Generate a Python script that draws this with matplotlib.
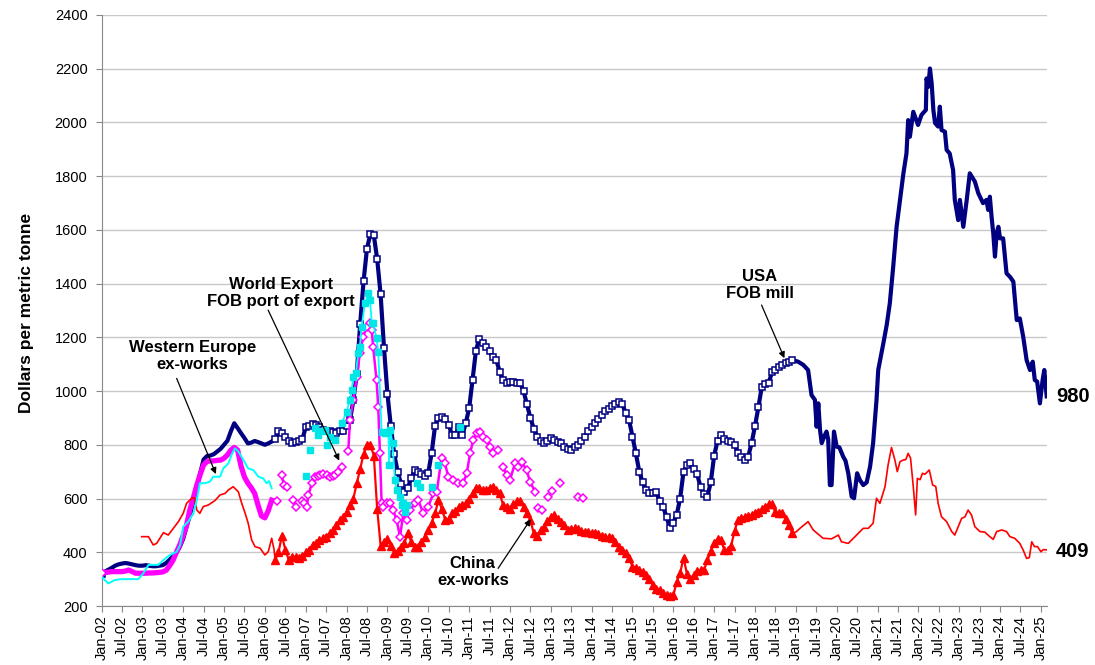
import numpy as np
import matplotlib
matplotlib.use('Agg')
import matplotlib.pyplot as plt

plt.rcParams['font.family'] = ['Liberation Sans', 'DejaVu Sans']

nan = float('nan')

# all dates are months counted from Jan-02 (0 = Jan-02, 12 = Jan-03 ...)

# USA FOB mill, monthly Jan-02 .. Dec-18
usa_monthly = [
    320, 328, 335, 342, 350, 355, 358, 360, 358, 355, 352, 350,            # 2002
    350, 352, 350, 348, 348, 350, 352, 360, 372, 385, 398, 420,            # 2003
    450, 495, 540, 590, 640, 695, 745, 758, 760, 765, 775, 785,            # 2004
    800, 815, 850, 880, 862, 843, 825, 805, 808, 814, 810, 805,            # 2005
    800, 805, 812, 820, 850, 845, 830, 815, 806, 810, 815, 820,            # 2006
    865, 870, 878, 875, 865, 855, 850, 850, 848, 842, 850, 852,            # 2007
    870, 892, 965, 1065, 1250, 1410, 1530, 1585, 1580, 1490, 1360, 1160,   # 2008
    990, 870, 765, 700, 655, 625, 640, 675, 705, 700, 690, 685,            # 2009
    695, 770, 870, 900, 905, 895, 875, 835, 835, 865, 835, 880,            # 2010
    935, 1040, 1150, 1195, 1180, 1165, 1150, 1125, 1115, 1072, 1040, 1029, # 2011
    1035, 1035, 1030, 1029, 1000, 950, 900, 860, 830, 815, 806, 815,       # 2012
    824, 818, 812, 805, 793, 785, 781, 790, 800, 815, 830, 850,            # 2013
    867, 880, 895, 910, 925, 932, 945, 952, 960, 950, 920, 892,            # 2014
    830, 768, 700, 660, 630, 622, 619, 625, 590, 569, 532, 489,            # 2015
    510, 540, 600, 700, 725, 731, 710, 690, 644, 615, 607, 660,            # 2016
    760, 815, 836, 820, 815, 811, 800, 770, 755, 743, 756, 806,            # 2017
    870, 940, 1016, 1025, 1030, 1070, 1080, 1090, 1095, 1103, 1108, 1115,  # 2018
]
usa_marker_from = 51   # open squares from Apr-06 to Dec-18
usa_late_m = [204.7, 206.2, 207.6, 208.6, 209.6, 210.1, 210.6, 211.1, 211.6, 212.3,
              213, 213.5, 214, 214.5, 215.2, 216, 216.8, 217.9, 218.6, 219.4,
              220.4, 221.1, 222, 222.8, 223.8, 224.8, 225.8, 226.7, 227.7, 228.2,
              229.7, 230.7, 231.6, 232.6, 233.6, 234.6, 235.6, 236.5, 237, 237.5,
              238.5, 239.9, 240.9, 242.2, 242.4, 242.9, 243.4, 243.9, 244.4, 244.9,
              245.8, 246.3, 246.8, 247.8, 248.3, 249.2, 250.2, 250.7, 251.7, 252.2,
              253.2, 254.2, 255.1, 256.6, 257.6, 259, 260, 260.5, 261, 261.5,
              262, 262.5, 263, 263.5, 264, 264.9, 265.9, 266.9, 267.9, 268.9,
              269.8, 270.8, 271.8, 272.8, 273.6, 274.2, 274.9, 275.7, 276.5, 277,
              277.7]
usa_late_v = [1109, 1097, 1078, 985, 967, 867, 954, 855, 806, 830,
              849, 820, 650, 650, 849, 793, 790, 756, 740, 694,
              607, 601, 694, 669, 650, 660, 718, 806, 967, 1078,
              1177, 1246, 1326, 1462, 1611, 1711, 1810, 1884, 2008, 1946,
              2039, 1990, 2027, 2046, 2163, 2132, 2200, 2145, 2046, 1997,
              1984, 2058, 1971, 1965, 1897, 1884, 1822, 1711, 1636, 1711,
              1611, 1711, 1810, 1779, 1736, 1699, 1711, 1674, 1723, 1649,
              1587, 1500, 1587, 1611, 1568, 1568, 1438, 1425, 1407, 1264,
              1270, 1202, 1115, 1078, 1109, 1041, 1035, 954, 1041, 1078,
              980]

# China ex-works
china_early_m = [11.8, 13.8, 15.2, 16.2, 18.2, 19.6, 21.1, 22.6, 24, 25, 26.5, 27.2,
                 28, 28.9, 29.9, 31.4, 33.3, 34.8, 36.3, 37.3, 38.7, 40.2, 41.2,
                 42.2, 43.1, 44.1, 45.1, 46.6, 48, 49, 50, 50.7, 51]
china_early_v = [458, 458, 427, 433, 473, 464, 489, 514, 545, 582, 601, 604,
                 557, 545, 570, 576, 592, 613, 619, 632, 644, 625, 582,
                 545, 508, 446, 421, 415, 390, 402, 452, 410, 371]
china_mid_from = 51    # triangles, monthly Apr-06 .. Dec-18
china_mid = [
    371, 400, 462, 410, 372, 383, 383, 380, 385,                          # 2006
    400, 410, 427, 436, 446, 452, 458, 470, 483, 500, 520, 530,           # 2007
    550, 575, 600, 657, 710, 765, 800, 800, 760, 560, 425, 440,           # 2008
    450, 425, 398, 405, 420, 435, 470, 440, 421, 421, 440, 455,           # 2009
    483, 510, 545, 594, 560, 520, 525, 545, 555, 570, 575, 582,           # 2010
    600, 619, 640, 640, 632, 632, 640, 644, 630, 619, 575, 570,           # 2011
    560, 578, 590, 592, 570, 545, 520, 470, 460, 483, 495, 515,           # 2012
    530, 539, 525, 514, 500, 483, 486, 489, 485, 480, 477, 474,           # 2013
    472, 470, 468, 462, 458, 455, 452, 440, 421, 410, 398, 380,           # 2014
    346, 340, 334, 325, 315, 300, 278, 265, 259, 250, 241, 236,           # 2015
    240, 290, 322, 380, 320, 300, 315, 330, 334, 334, 370, 405,           # 2016
    433, 450, 445, 408, 408, 425, 480, 520, 528, 532, 535, 539,           # 2017
    545, 551, 560, 570, 578, 580, 548, 545, 545, 525, 500, 470,           # 2018
]
china_late_m = [203, 204.2, 205.2, 207.6, 209.1, 212, 214.5, 216.5, 217.4, 219.4,
                220.9, 223.8, 225.3, 226.7, 227.7, 228.7, 230.2, 231.1, 232.1, 233.1,
                233.8, 234.6, 235.5, 236.3, 237, 237.7, 238.5, 239.2, 239.7, 240.5,
                241.2, 241.9, 243.2, 244.2, 245.1, 245.8, 246.8, 248.3, 249.8, 250.7,
                251.7, 252.7, 253.7, 254.6, 255.6, 256.6, 258.1, 259.5, 261, 262,
                263, 264.5, 265.9, 266.9, 268.3, 269.8, 270.8, 271.8, 272.6, 273.3,
                274.1, 275, 276, 276.7, 277.7]
china_late_v = [470, 477, 489, 514, 483, 452, 450, 464, 439, 433,
                452, 489, 489, 508, 601, 582, 644, 725, 790, 743,
                700, 737, 743, 745, 768, 750, 644, 539, 675, 670,
                694, 690, 706, 650, 645, 582, 532, 514, 477, 464,
                495, 526, 532, 557, 539, 495, 477, 475, 458, 448,
                477, 483, 477, 458, 452, 433, 408, 377, 380, 439,
                421, 421, 402, 410, 409]

# Western Europe ex-works
eu_early = [
    322, 325, 326, 328, 328, 328, 328, 330, 334, 328, 322, 322,           # 2002
    322, 322, 323, 323, 324, 325, 327, 333, 350, 370, 400, 428,           # 2003
    462, 502, 560, 603, 650, 690, 725, 738, 740, 740, 742, 743,           # 2004
    750, 762, 780, 790, 780, 720, 680, 657, 640, 619, 575, 535,           # 2005
    528, 555, 594,                                                        # 2006
]
eu_mid_m = [51.6, nan, 52.9, 53.6, 54.4, nan, 56.4, 57.1, nan, 58.8, 59.5, 60.3,
            60.8, 61.8, 62.7, 63.5, 64.2, 65.2, 66.2, 67.1, 68, 68.6, 69.6, 70.6,
            nan, 72.5, 73, 74, 75, 75.9, 76.9, 77.9, 78.9, 79.4, 79.8, 80.8,
            81.3, 81.8, 82.3, 82.8, 83.8, 84.8, 85.7, 86.7, 87.7, 88.7, 89.7, 90.6,
            92.1, 93.1, 94.5, 96, 97.5, 98.5, 99.9, 100.9, 101.9, 103.3, 104.8, 106.3,
            107.3, 108.3, 109.2, 110.2, 111.2, 112.2, 113.2, 114.1, 115.1, nan, 116.6, nan,
            118, 119, 120, 121.5, 122.4, 123.4, 124.9, 125.9, 127.4, nan, 128.3, 129.3,
            nan, 131.3, nan, 132.5, nan, 134.7, nan, 140.1, nan, 141.5]
eu_mid_v = [592, nan, 688, 650, 642, nan, 594, 570, nan, 592, 582, 570,
            613, 657, 681, 684, 688, 690, 688, 680, 685, 688, 700, 716,
            nan, 775, 892, 967, 1053, 1140, 1202, 1239, 1252, 1227, 1165, 1041,
            942, 768, 582, 570, 582, 582, 557, 520, 458, 545, 520, 557,
            582, 594, 545, 570, 619, 625, 750, 731, 681, 669, 657, 657,
            694, 768, 818, 842, 848, 830, 818, 793, 768, nan, 780, nan,
            718, 688, 669, 731, 718, 737, 706, 663, 625, nan, 563, 557,
            nan, 607, nan, 629, nan, 659, nan, 607, nan, 601]

# World Export FOB port of export
world_early_m = [0, 2, 4, 5.9, 10.8, 12.3, 13.8, 16.7, 18.2, 20.1, 22.1, 23.1, 24,
                 25.5, 27, 28, 28.9, 30.4, 31.9, 32.8, 34.8, 35.8, 37.3, 38.2, 39.2,
                 40.2, 41.7, 43.1, 44.6, 46.1, 47.5, 48.5, 49.2, 50]
world_early_v = [309, 284, 297, 300, 300, 322, 353, 353, 371, 390, 402, 427, 495,
                 514, 545, 594, 657, 657, 663, 681, 681, 712, 731, 762, 787,
                 775, 743, 712, 706, 681, 675, 657, 665, 638]
world_mid_m = [60.1, nan, 61.2, nan, 62.7, 63.7, 64.7, 65.7, nan, 66.2, nan, 67.1,
               68.6, nan, 70.6, 72, 73, 73.5, 74, 74.7, 75.4, 75.9, 76.4, 77.4,
               78.4, 78.9, 79.4, 79.8, 80.8, 81.3, 82.3, 83.3, 84.3, 84.5, 84.8, 85.5,
               86.2, 86.7, 87.7, 88.2, 88.7, 89.2, 89.7, nan, 92.6, 93.6, nan, 97,
               nan, 99, nan, 105.3]
world_mid_v = [684, nan, 780, nan, 861, 836, 850, 855, nan, 800, nan, 830,
               818, nan, 880, 923, 967, 1004, 1053, 1066, 1140, 1165, 1239, 1326,
               1364, 1339, 1252, 1252, 1196, 1146, 849, 842, 849, 725, 855, 806,
               669, 632, 607, 576, 582, 551, 576, nan, 657, 644, nan, 644,
               nan, 725, nan, 865]

tick_years = list(range(2002, 2026))
tick_months = ['Jan', 'Jul']

NAVY = '#000080'
RED = '#ff0000'
MAGENTA = '#ff00ff'
CYAN = '#00ffff'


def yr(m):
    return 2002 + np.asarray(m, dtype=float) / 12.0


fig = plt.figure(figsize=(10.95, 6.65), dpi=100)
ax = fig.add_axes([0.0927, 0.0887, 0.8635, 0.8891])

# USA
usa_m = np.concatenate([np.arange(len(usa_monthly)), usa_late_m])
usa_v = np.concatenate([usa_monthly, usa_late_v])
ax.plot(yr(usa_m), usa_v, color=NAVY, lw=3.0, zorder=3, solid_joinstyle='round')
mk = np.arange(usa_marker_from, len(usa_monthly))
ax.plot(yr(mk), np.array(usa_monthly)[mk], ls='none', marker='s', ms=4.6,
        mfc='white', mec=NAVY, mew=1.1, zorder=3.1)
ax.plot(yr([0]), [usa_monthly[0]], ls='none', marker='s', ms=4.6,
        mfc='white', mec=NAVY, mew=1.1, zorder=3.1)

# Western Europe
ax.plot(yr(np.arange(len(eu_early))), eu_early, color=MAGENTA, lw=3.8, zorder=4)
ax.plot(yr([0]), [eu_early[0]], ls='none', marker='D', ms=3.6,
        mfc='white', mec=MAGENTA, mew=1.1, zorder=4.1)
ax.plot(yr(eu_mid_m), eu_mid_v, color=MAGENTA, lw=1.8, marker='D', ms=3.6,
        mfc='white', mec=MAGENTA, mew=1.1, zorder=4)

# China
ax.plot(yr(china_early_m), china_early_v, color=RED, lw=1.2, zorder=5)
cm = china_mid_from + np.arange(len(china_mid))
ax.plot(yr(cm), china_mid, color=RED, lw=1.6, marker='^', ms=5.2,
        mfc=RED, mec=RED, zorder=5)
ax.plot(yr(china_late_m), china_late_v, color=RED, lw=1.2, zorder=5)

# World export
ax.plot(yr(world_early_m), world_early_v, color=CYAN, lw=1.4, zorder=6)
ax.plot(yr(world_mid_m), world_mid_v, color=CYAN, lw=1.3, marker='s', ms=5.0,
        mfc='#00e6e6', mec='#00e6e6', zorder=6)

# axes
ax.set_xlim(2002, yr(277.8))
ax.set_ylim(200, 2400)
ax.set_yticks(np.arange(200, 2401, 200))
ticks, labels = [], []
for y in tick_years:
    for i, mo in enumerate(tick_months):
        if y == 2025 and i == 1:
            continue
        ticks.append(y + 0.5 * i)
        labels.append('%s-%02d' % (mo, y % 100))
ax.set_xticks(ticks)
ax.set_xticklabels(labels, rotation=90, fontsize=10.5)
ax.tick_params(axis='y', labelsize=10.5, length=4, pad=6, color='#888888')
ax.tick_params(axis='x', length=4, pad=3, color='#888888')
ax.grid(axis='y', color='#c8c8c8', lw=1.0, zorder=0)
ax.set_axisbelow(True)
for s in ['top', 'right']:
    ax.spines[s].set_visible(False)
for s in ['left', 'bottom']:
    ax.spines[s].set_color('#888888')

fig.text(27 / 1095, 1 - 313 / 665, 'Dollars per metric tonne', rotation=90,
         fontsize=12.5, fontweight='bold', ha='center', va='center')

# annotations
bold = dict(fontsize=12, fontweight='bold', ha='center', va='center', linespacing=1.15)
arrow = dict(arrowstyle='-|>', color='black', lw=0.9, mutation_scale=9, shrinkA=0, shrinkB=0)

ax.text(2006.40, 1365, 'World Export\nFOB port of export', zorder=10, **bold)
ax.annotate('', xy=(2007.82, 741), xytext=(2006.08, 1301), arrowprops=arrow, zorder=10)

ax.text(2004.22, 1129, 'Western Europe\nex-works', zorder=10, **bold)
ax.annotate('', xy=(2004.80, 691), xytext=(2003.84, 1047), arrowprops=arrow, zorder=10)

ax.text(2011.09, 328, 'China\nex-works', zorder=10, **bold)
ax.annotate('', xy=(2012.51, 523), xytext=(2011.71, 340), arrowprops=arrow, zorder=10)

ax.text(2018.12, 1395, 'USA\nFOB mill', zorder=10, **bold)
ax.annotate('', xy=(2018.72, 1122), xytext=(2018.16, 1320), arrowprops=arrow, zorder=10)

ax.text(2025.37, usa_late_v[-1], '%d' % usa_late_v[-1], fontsize=14.5, fontweight='bold',
        ha='left', va='center', clip_on=False)
ax.text(2025.37, 401, '%d' % china_late_v[-1], fontsize=14.5, fontweight='bold',
        ha='left', va='center', clip_on=False)

fig.savefig('out.png', dpi=100)
